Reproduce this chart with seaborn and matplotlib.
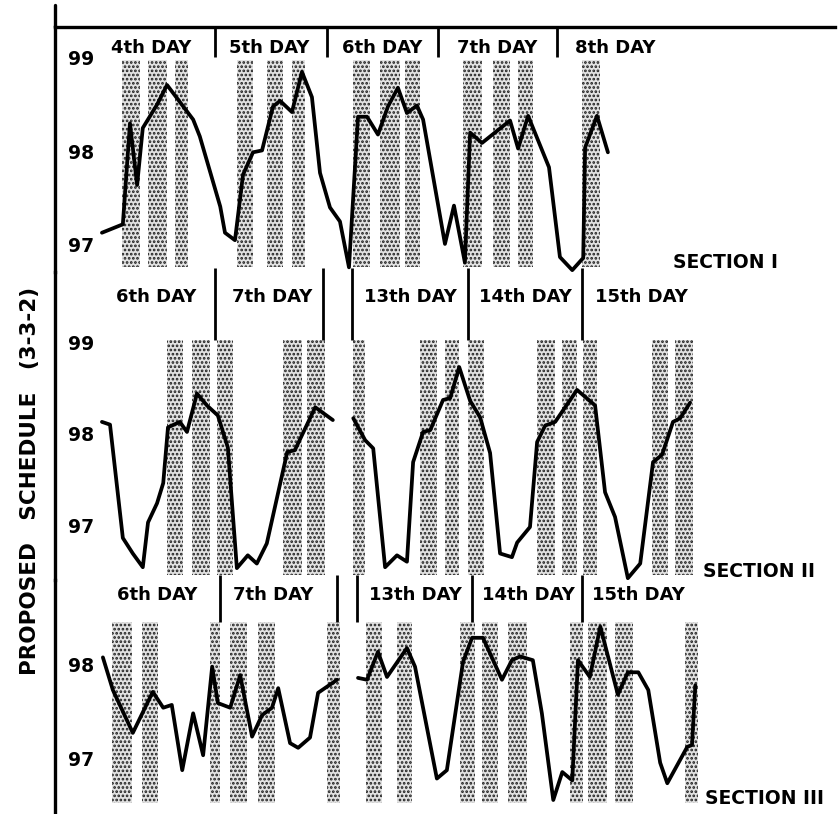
import matplotlib
matplotlib.use("Agg")
import matplotlib.pyplot as plt
import seaborn as sns
import pandas as pd
from matplotlib.lines import Line2D

sns.set_style("white")
plt.rcParams["font.family"] = ["DejaVu Sans"]
plt.rcParams["hatch.linewidth"] = 1.3

# ---------------- data (hours on the drawn time axis, body temperature °F) ----------------
# Section I
s1_hours = [0.2, 4.6, 6.1, 7.6, 8.8, 11.8, 13.9, 19.4, 20.8, 25.1, 26.1, 28.2, 29.9, 32.0, 33.9,
            36.2, 37.7, 40.2, 42.3, 44.4, 46.1, 48.2, 50.3, 52.2, 54.1, 56.0, 58.3, 60.4, 62.5,
            64.4, 66.5, 67.8, 72.4, 74.3, 76.6, 77.7, 80.2, 86.1, 87.8, 89.9, 94.3, 96.6, 99.2,
            101.5, 101.9, 104.4, 106.7]
s1_temps = [97.13, 97.22, 98.30, 97.64, 98.25, 98.50, 98.71, 98.34, 98.16, 97.41, 97.13, 97.05,
            97.75, 97.99, 98.01, 98.48, 98.54, 98.42, 98.85, 98.58, 97.77, 97.40, 97.25, 96.76,
            98.37, 98.37, 98.18, 98.48, 98.68, 98.41, 98.49, 98.34, 97.01, 97.42, 96.81, 98.20,
            98.09, 98.33, 98.03, 98.38, 97.83, 96.87, 96.73, 96.86, 98.04, 98.38, 97.99]
s1_stripe_start = [4.4, 9.9, 15.6, 28.6, 34.9, 40.2, 53.1, 58.7, 64.0, 76.2, 82.5, 87.8, 101.3]
s1_stripe_end = [8.2, 13.9, 18.3, 32.0, 38.3, 42.9, 56.6, 62.9, 67.2, 80.2, 86.1, 90.9, 105.1]
s1_day_labels = ["4th DAY", "5th DAY", "6th DAY", "7th DAY", "8th DAY"]
s1_day_centers = [10.5, 35.4, 59.2, 83.4, 108.2]
s1_dividers = [24.0, 47.6, 70.9, 96.0]

# Section II
s2a_hours = [0.2, 1.9, 4.6, 6.7, 8.8, 9.9, 11.8, 13.1, 14.1, 16.6, 18.1, 20.2, 22.3, 24.6, 26.7,
             28.6, 30.9, 32.8, 34.9, 39.2, 40.8, 45.1, 48.8]
s2a_temps = [98.13, 98.10, 96.86, 96.69, 96.54, 97.03, 97.24, 97.46, 98.07, 98.13, 98.02, 98.44,
             98.31, 98.20, 97.85, 96.53, 96.67, 96.58, 96.80, 97.80, 97.82, 98.29, 98.15]
s2b_hours = [53.1, 55.6, 57.3, 59.8, 62.3, 64.4, 65.7, 67.8, 69.3, 72.0, 73.5, 75.4, 77.7, 79.8,
             81.9, 84.0, 86.5, 87.6, 90.3, 91.8, 93.5, 95.6, 100.2, 104.0, 106.1, 108.2, 110.9,
             113.5, 116.2, 118.1, 120.4, 121.9, 124.0]
s2b_temps = [98.17, 97.93, 97.84, 96.54, 96.67, 96.60, 97.69, 98.02, 98.04, 98.37, 98.39, 98.73,
             98.36, 98.18, 97.79, 96.69, 96.65, 96.81, 96.98, 97.91, 98.09, 98.13, 98.48, 98.31,
             97.36, 97.09, 96.42, 96.58, 97.69, 97.77, 98.13, 98.17, 98.34]
s2_stripe_start = [13.9, 19.2, 24.4, 38.3, 43.4, 53.1, 67.2, 72.4, 77.3, 91.8, 97.1, 101.5, 116.0, 120.8]
s2_stripe_end = [17.3, 22.9, 27.8, 42.3, 47.2, 55.6, 70.7, 75.4, 80.6, 95.6, 100.2, 104.4, 119.4, 124.6]
s2_day_labels = ["6th DAY", "7th DAY", "13th DAY", "14th DAY", "15th DAY"]
s2_day_centers = [11.6, 36.0, 65.1, 89.3, 113.7]
s2_dividers = [24.0, 46.7, 52.8, 77.3, 101.3]

# Section III
s3a_hours = [0.4, 2.5, 6.7, 10.9, 13.1, 14.9, 17.1, 19.4, 21.5, 23.4, 24.6, 27.2, 29.3, 31.8,
             33.9, 36.0, 37.3, 39.8, 41.5, 44.0, 45.7, 49.7]
s3a_temps = [98.08, 97.73, 97.27, 97.71, 97.54, 97.57, 96.87, 97.48, 97.03, 97.98, 97.59, 97.54,
             97.89, 97.23, 97.46, 97.54, 97.75, 97.16, 97.11, 97.22, 97.70, 97.84]
s3b_hours = [54.1, 56.0, 58.3, 60.2, 64.4, 66.1, 70.7, 72.8, 76.2, 78.1, 80.4, 84.4, 86.5, 88.2,
             90.9, 92.8, 95.2, 97.1, 99.2, 100.4, 102.9, 105.1, 108.8, 110.9, 113.1, 115.2,
             117.7, 119.2, 123.4, 124.4, 125.1]
s3b_temps = [97.86, 97.84, 98.14, 97.87, 98.18, 97.98, 96.78, 96.87, 98.03, 98.29, 98.29, 97.84,
             98.05, 98.09, 98.05, 97.48, 96.55, 96.85, 96.76, 98.05, 97.87, 98.41, 97.68, 97.92,
             97.92, 97.73, 96.95, 96.73, 97.12, 97.14, 97.78]
s3_stripe_start = [2.3, 8.6, 22.9, 27.2, 33.1, 47.6, 55.8, 62.3, 75.6, 80.2, 85.7, 98.7, 102.5, 108.2, 122.9]
s3_stripe_end = [6.5, 12.0, 25.1, 30.7, 36.6, 50.3, 59.2, 65.5, 78.7, 83.6, 89.7, 101.5, 106.5, 112.0, 125.7]
s3_day_labels = ["6th DAY", "7th DAY", "13th DAY", "14th DAY", "15th DAY"]
s3_day_centers = [11.8, 36.2, 66.1, 89.9, 113.1]
s3_dividers = [25.1, 49.7, 53.9, 78.1, 101.3]

section_titles = ["SECTION I", "SECTION II", "SECTION III"]
y_title = "PROPOSED   SCHEDULE   (3-3-2)"

# ---------------- layout ----------------
W, H = 838, 814
fig = plt.figure(figsize=(W / 100, H / 100), dpi=100)
fig.patch.set_facecolor("white")

def px_axes(top, bottom, left=55, right=835):
    return fig.add_axes([left / W, 1 - bottom / H, (right - left) / W, (bottom - top) / H])

ax1 = px_axes(27, 272)
ax2 = px_axes(272, 580)
ax3 = px_axes(580, 814)

xlim = (-9.68, 154.5)
sections = [
    dict(ax=ax1, ylim=(96.71, 99.33), yticks=[97, 98, 99],
         segs=[(s1_hours, s1_temps)], ss=s1_stripe_start, se=s1_stripe_end,
         stripe_y=(0.02, 0.865), labels=s1_day_labels, centers=s1_day_centers, label_y=0.914,
         dividers=s1_dividers, div_y=(0.878, 1.0), title=section_titles[0], title_xy=(0.86, 0.037)),
    dict(ax=ax2, ylim=(96.40, 99.77), yticks=[97, 98, 99],
         segs=[(s2a_hours, s2a_temps), (s2b_hours, s2b_temps)], ss=s2_stripe_start, se=s2_stripe_end,
         stripe_y=(0.016, 0.779), labels=s2_day_labels, centers=s2_day_centers, label_y=0.919,
         dividers=s2_dividers, div_y=(0.779, 1.013), title=section_titles[1], title_xy=(0.903, 0.026)),
    dict(ax=ax3, ylim=(96.40, 98.91), yticks=[97, 98],
         segs=[(s3a_hours, s3a_temps), (s3b_hours, s3b_temps)], ss=s3_stripe_start, se=s3_stripe_end,
         stripe_y=(0.047, 0.821), labels=s3_day_labels, centers=s3_day_centers, label_y=0.936,
         dividers=s3_dividers, div_y=(0.821, 1.021), title=section_titles[2], title_xy=(0.909, 0.068)),
]

for i, s in enumerate(sections):
    ax = s["ax"]
    ax.set_facecolor("none")
    ax.set_xlim(*xlim)
    ax.set_ylim(*s["ylim"])
    for a, b in zip(s["ss"], s["se"]):
        ax.axvspan(a, b, ymin=s["stripe_y"][0], ymax=s["stripe_y"][1], facecolor="#e2e2e2",
                   edgecolor="#1e1e1e", hatch="....", linewidth=0, zorder=1)
    for hrs, tmp in s["segs"]:
        df = pd.DataFrame({"hour": hrs, "temp": tmp})
        sns.lineplot(data=df, x="hour", y="temp", ax=ax, color="black", linewidth=2.7,
                     sort=False, estimator=None, zorder=3, clip_on=False)
    ax.vlines(s["dividers"], s["div_y"][0], s["div_y"][1], transform=ax.get_xaxis_transform(),
              color="black", linewidth=2.0, clip_on=False, zorder=4)
    for lab, c in zip(s["labels"], s["centers"]):
        ax.text(c, s["label_y"], lab, transform=ax.get_xaxis_transform(), ha="center",
                va="center", fontsize=13, fontweight="bold", color="black")
    ax.text(s["title_xy"][0], s["title_xy"][1], s["title"], transform=ax.transAxes,
            ha="center", va="center", fontsize=13.5, fontweight="bold", color="black")
    ax.set_xticks([])
    ax.set_yticks(s["yticks"])
    ax.set_yticklabels([str(t) for t in s["yticks"]])
    ax.tick_params(axis="y", direction="in", length=8.5, width=2.2, pad=-9.5,
                   labelsize=13.5, colors="black")
    for t in ax.get_yticklabels():
        t.set_horizontalalignment("left")
        t.set_fontweight("bold")
    ax.set_xlabel("")
    ax.set_ylabel("")
    for side in ["right", "bottom", "top"]:
        ax.spines[side].set_visible(False)
    ax.spines["left"].set_linewidth(2.4)
    ax.spines["left"].set_color("black")

ax1.spines["top"].set_visible(True)
ax1.spines["top"].set_linewidth(2.4)
ax1.spines["top"].set_color("black")

# stub of the frame line above the top rule
fig.add_artist(Line2D([55 / W, 55 / W], [1 - 5 / H, 1 - 27 / H], color="black", linewidth=2.4))

fig.text(30 / W, 1 - 481 / H, y_title, rotation=90, ha="center", va="center",
         fontsize=15.5, fontweight="bold", color="black")

fig.savefig("out.png", dpi=100, facecolor="white")
